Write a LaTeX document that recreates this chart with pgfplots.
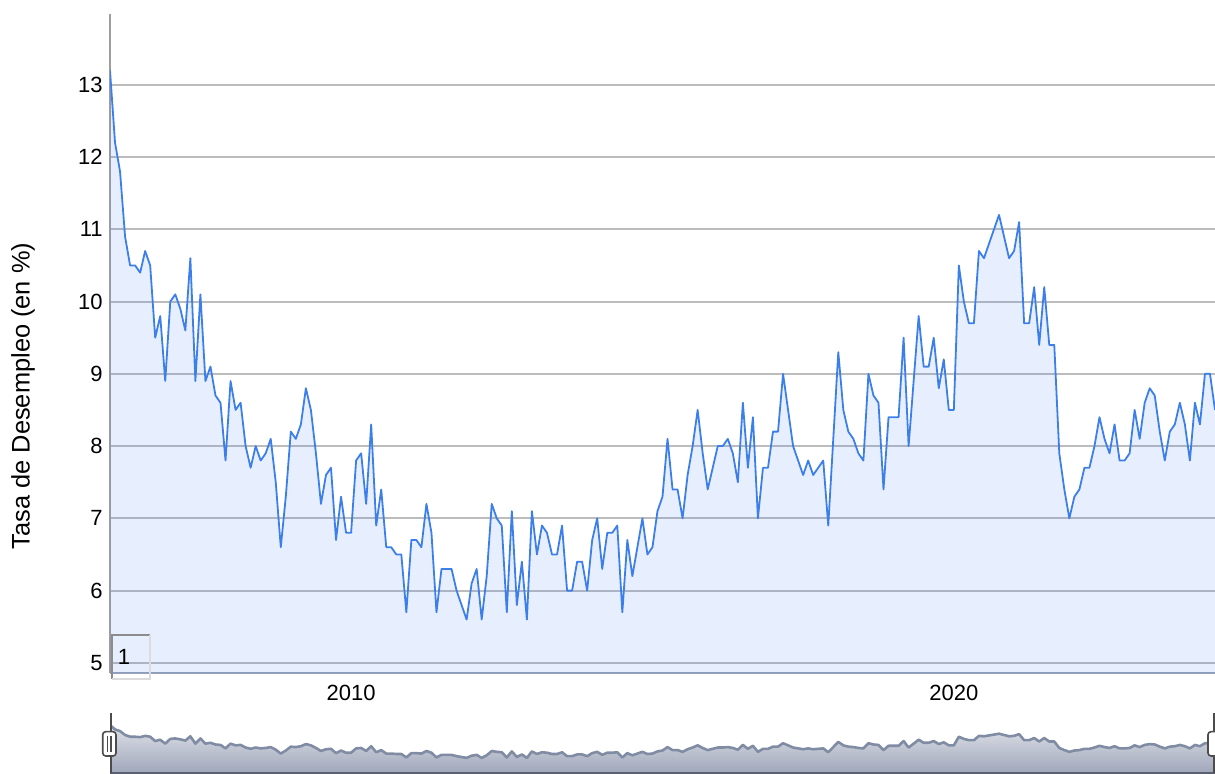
\documentclass[border=0pt]{standalone}
\usepackage{pgfplots}
\pgfplotsset{compat=1.18}
\usepackage{pgfplotstable}
\usepackage{fontspec}
\setmainfont{Liberation Sans}
\definecolor{lineblue}{RGB}{61,127,234}
\definecolor{fillblue}{RGB}{66,133,244}
\definecolor{gridgray}{RGB}{188,188,188}
\definecolor{baseaxis}{RGB}{150,162,184}
\definecolor{navline}{RGB}{128,140,164}
\definecolor{navtop}{RGB}{222,225,232}
\definecolor{navbot}{RGB}{160,167,186}
\definecolor{navbase}{RGB}{90,96,112}

\pgfplotstableread[row sep=\\]{
i v\\
0 13.2\\ 1 12.2\\ 2 11.8\\ 3 10.9\\ 4 10.5\\ 5 10.5\\ 6 10.4\\ 7 10.7\\ 8 10.5\\ 9 9.5\\
10 9.8\\ 11 8.9\\ 12 10.0\\ 13 10.1\\ 14 9.9\\ 15 9.6\\ 16 10.6\\ 17 8.9\\ 18 10.1\\ 19 8.9\\
20 9.1\\ 21 8.7\\ 22 8.6\\ 23 7.8\\ 24 8.9\\ 25 8.5\\ 26 8.6\\ 27 8.0\\ 28 7.7\\ 29 8.0\\
30 7.8\\ 31 7.9\\ 32 8.1\\ 33 7.5\\ 34 6.6\\ 35 7.3\\ 36 8.2\\ 37 8.1\\ 38 8.3\\ 39 8.8\\
40 8.5\\ 41 7.9\\ 42 7.2\\ 43 7.6\\ 44 7.7\\ 45 6.7\\ 46 7.3\\ 47 6.8\\ 48 6.8\\ 49 7.8\\
50 7.9\\ 51 7.2\\ 52 8.3\\ 53 6.9\\ 54 7.4\\ 55 6.6\\ 56 6.6\\ 57 6.5\\ 58 6.5\\ 59 5.7\\
60 6.7\\ 61 6.7\\ 62 6.6\\ 63 7.2\\ 64 6.8\\ 65 5.7\\ 66 6.3\\ 67 6.3\\ 68 6.3\\ 69 6.0\\
70 5.8\\ 71 5.6\\ 72 6.1\\ 73 6.3\\ 74 5.6\\ 75 6.2\\ 76 7.2\\ 77 7.0\\ 78 6.9\\ 79 5.7\\
80 7.1\\ 81 5.8\\ 82 6.4\\ 83 5.6\\ 84 7.1\\ 85 6.5\\ 86 6.9\\ 87 6.8\\ 88 6.5\\ 89 6.5\\
90 6.9\\ 91 6.0\\ 92 6.0\\ 93 6.4\\ 94 6.4\\ 95 6.0\\ 96 6.7\\ 97 7.0\\ 98 6.3\\ 99 6.8\\
100 6.8\\ 101 6.9\\ 102 5.7\\ 103 6.7\\ 104 6.2\\ 105 6.6\\ 106 7.0\\ 107 6.5\\ 108 6.6\\ 109 7.1\\
110 7.3\\ 111 8.1\\ 112 7.4\\ 113 7.4\\ 114 7.0\\ 115 7.6\\ 116 8.0\\ 117 8.5\\ 118 7.9\\ 119 7.4\\
120 7.7\\ 121 8.0\\ 122 8.0\\ 123 8.1\\ 124 7.9\\ 125 7.5\\ 126 8.6\\ 127 7.7\\ 128 8.4\\ 129 7.0\\
130 7.7\\ 131 7.7\\ 132 8.2\\ 133 8.2\\ 134 9.0\\ 135 8.5\\ 136 8.0\\ 137 7.8\\ 138 7.6\\ 139 7.8\\
140 7.6\\ 141 7.7\\ 142 7.8\\ 143 6.9\\ 144 8.1\\ 145 9.3\\ 146 8.5\\ 147 8.2\\ 148 8.1\\ 149 7.9\\
150 7.8\\ 151 9.0\\ 152 8.7\\ 153 8.6\\ 154 7.4\\ 155 8.4\\ 156 8.4\\ 157 8.4\\ 158 9.5\\ 159 8.0\\
160 8.9\\ 161 9.8\\ 162 9.1\\ 163 9.1\\ 164 9.5\\ 165 8.8\\ 166 9.2\\ 167 8.5\\ 168 8.5\\ 169 10.5\\
170 10.0\\ 171 9.7\\ 172 9.7\\ 173 10.7\\ 174 10.6\\ 175 10.8\\ 176 11.0\\ 177 11.2\\ 178 10.9\\ 179 10.6\\
180 10.7\\ 181 11.1\\ 182 9.7\\ 183 9.7\\ 184 10.2\\ 185 9.4\\ 186 10.2\\ 187 9.4\\ 188 9.4\\ 189 7.9\\
190 7.4\\ 191 7.0\\ 192 7.3\\ 193 7.4\\ 194 7.7\\ 195 7.7\\ 196 8.0\\ 197 8.4\\ 198 8.1\\ 199 7.9\\
200 8.3\\ 201 7.8\\ 202 7.8\\ 203 7.9\\ 204 8.5\\ 205 8.1\\ 206 8.6\\ 207 8.8\\ 208 8.7\\ 209 8.2\\
210 7.8\\ 211 8.2\\ 212 8.3\\ 213 8.6\\ 214 8.3\\ 215 7.8\\ 216 8.6\\ 217 8.3\\ 218 9.0\\ 219 9.0\\
220 8.5\\
}\unemp

\begin{document}
\begin{tikzpicture}
\useasboundingbox (0,0) rectangle (607.5pt,387pt);
\begin{axis}[
  name=main,
  at={(55pt,50.5pt)}, anchor=south west,
  scale only axis, width=552.5pt, height=329.5pt,
  xmin=0, xmax=220, ymin=4.86, ymax=13.98,
  axis x line=bottom, axis y line=left,
  x axis line style={-, draw=baseaxis, line width=1pt},
  y axis line style={-, draw=black!38, line width=0.75pt},
  xtick={48,168}, xticklabels={2010,2020},
  ytick={5,6,...,13},
  major tick length=0pt,
  ymajorgrids, grid style={draw=gridgray, line width=0.95pt},
  tick label style={font=\fontsize{11}{13}\selectfont},
  /pgf/number format/assume math mode=true,
  yticklabel style={inner sep=0pt, anchor=east, xshift=-3.5pt},
  xticklabel style={inner sep=0pt, anchor=north, yshift=-6pt},
  ylabel={Tasa de Desempleo (en \%)},
  ylabel style={font=\fontsize{12.7}{15}\selectfont, at={(axis description cs:-0.0787,0.4203)}, anchor=center, inner sep=0pt},
]
\addplot[draw=none, fill=fillblue, fill opacity=0.13] table[x=i,y=v]{\unemp} \closedcycle;
\addplot[lineblue, line width=0.9pt, line join=round] table[x=i,y=v]{\unemp};
\end{axis}

\begin{axis}[
  at={(55pt,0.5pt)}, anchor=south west,
  scale only axis, width=552.5pt, height=30pt,
  xmin=0, xmax=220, ymin=2.1, ymax=16,
  hide axis,
]
\addplot[draw=none, top color=navtop, bottom color=navbot] table[x=i,y=v]{\unemp} \closedcycle;
\addplot[navline, line width=1.3pt, line join=round] table[x=i,y=v]{\unemp};
\end{axis}

% navigator base line and handles
\draw[line width=1pt, draw=navbase] (55pt,0.5pt) -- (607.5pt,0.5pt);
\draw[line width=0.8pt, draw=black!70] (55.35pt,0.5pt) -- (55.35pt,30.5pt);
\draw[line width=0.8pt, draw=black!70, fill=white, rounded corners=1.5pt] (51.35pt,9pt) rectangle (58pt,21.15pt);
\draw[line width=0.6pt, draw=black!70] (53.9pt,11pt) -- (53.9pt,19pt) (55.5pt,11pt) -- (55.5pt,19pt);
\draw[line width=0.8pt, draw=black!70] (607pt,0.5pt) -- (607pt,30.5pt);
\draw[line width=0.8pt, draw=black!70, fill=white, rounded corners=1.5pt] (604pt,9pt) rectangle (611pt,21.15pt);

% zoom box "1"
\draw[line width=1.4pt, draw=black!45] (56pt,47.5pt) -- (56pt,69.5pt) -- (75pt,69.5pt);
\draw[line width=1.4pt, draw=black!14] (75pt,69.5pt) -- (75pt,47.5pt) -- (56pt,47.5pt);
\node[font=\fontsize{11}{13}\selectfont, inner sep=0pt] at (62pt,58.5pt) {1};
\end{tikzpicture}
\end{document}
